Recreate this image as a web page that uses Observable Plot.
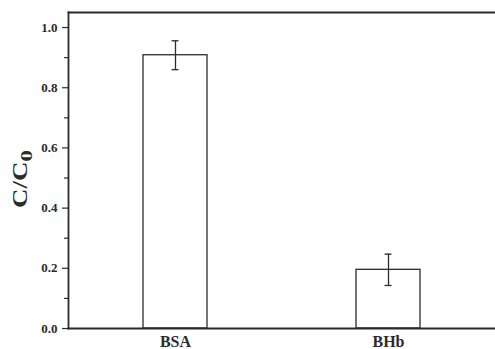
<!DOCTYPE html>
<html>
<head>
<meta charset="utf-8">
<script src="https://cdn.jsdelivr.net/npm/d3@7"></script>
<script src="https://cdn.jsdelivr.net/npm/@observablehq/plot@0.6"></script>
<style>
  html, body { margin: 0; padding: 0; background: #fff; overflow: hidden; }
  svg { display: block; }
</style>
</head>
<body>
<div id="chart"></div>
<script>
const categories = ["BSA", "BHb"];
const values = [0.908, 0.195];
const errors = [0.048, 0.052];
const majorTicks = [0, 0.2, 0.4, 0.6, 0.8, 1.0];
const minorTicks = [0.1, 0.3, 0.5, 0.7, 0.9];

const data = categories.map((c, i) => ({name: c, value: values[i], lo: values[i] - errors[i], hi: values[i] + errors[i]}));
const ink = "#2b2b2b";

const plot = Plot.plot({
  width: 495,
  height: 349,
  marginLeft: 68,
  marginRight: 0,
  marginTop: 12,
  marginBottom: 21,
  style: {fontFamily: "'Liberation Serif', 'Times New Roman', serif", fontWeight: "bold", background: "#fff", overflow: "visible"},
  x: {domain: categories, paddingInner: 0.7, paddingOuter: 0.35, label: null},
  y: {domain: [0, 1.05], label: null},
  marks: [
    Plot.barY(data, {x: "name", y: "value", fill: "white", stroke: ink, strokeWidth: 1.3}),
    Plot.ruleX(data, {x: "name", y1: "lo", y2: "hi", stroke: ink, strokeWidth: 1.3}),
    Plot.tickY(data, {x: "name", y: "lo", stroke: ink, strokeWidth: 1.3, insetLeft: 28.5, insetRight: 28.5}),
    Plot.tickY(data, {x: "name", y: "hi", stroke: ink, strokeWidth: 1.3, insetLeft: 28.5, insetRight: 28.5}),
    Plot.axisY({ticks: majorTicks, tickFormat: d3.format(".1f"), tickSize: 6, tickPadding: 5, fontSize: 13, fontWeight: "bold", fill: ink, stroke: ink, strokeWidth: 1.2, label: null}),
    Plot.axisY({ticks: minorTicks, tickFormat: null, text: null, tickSize: 4, stroke: ink, strokeWidth: 1.2, label: null}),
    Plot.axisX({tickSize: 0, tickPadding: 7.5, fontSize: 16, fontWeight: "bold", fill: ink, label: null}),
    Plot.frame({anchor: "left", stroke: ink, strokeWidth: 1.8}),
    Plot.frame({anchor: "top", stroke: ink, strokeWidth: 1.8}),
    Plot.frame({anchor: "bottom", stroke: ink, strokeWidth: 1.8})
  ]
});

const svg = d3.select(plot);
const t = svg.append("text")
  .attr("transform", "translate(27,179) rotate(-90) scale(1.35,1)")
  .attr("text-anchor", "middle")
  .attr("font-family", "'Liberation Serif', 'Times New Roman', serif")
  .attr("font-weight", "bold")
  .attr("font-size", 20)
  .attr("fill", ink);
t.append("tspan").text("C/C");
t.append("tspan").attr("dy", "0.3em").attr("font-size", 17).text("0");

document.getElementById("chart").appendChild(plot);
</script>
</body>
</html>
